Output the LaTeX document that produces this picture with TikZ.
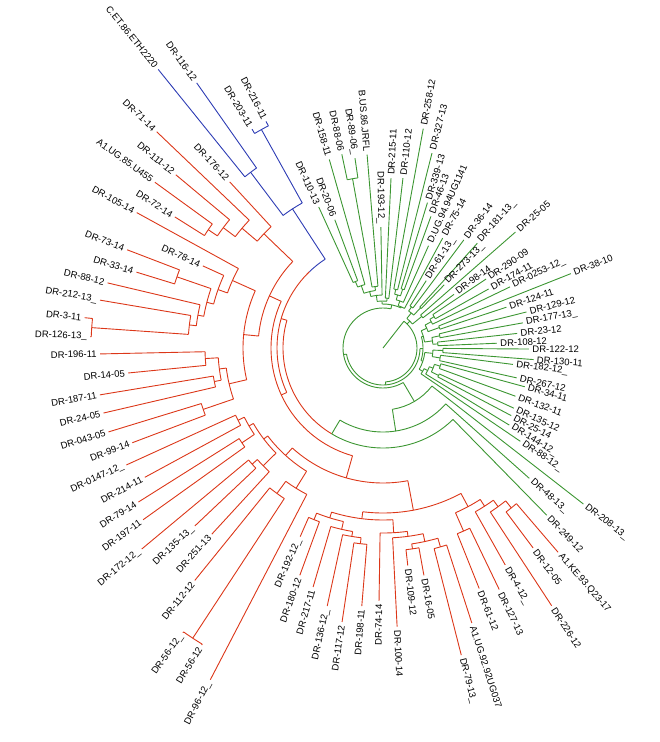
\documentclass[tikz,border=0pt]{standalone}
\usepackage{fontspec}
\setmainfont{Liberation Sans}
\definecolor{gc}{RGB}{60,150,50}
\definecolor{rc}{RGB}{220,55,25}
\definecolor{bc}{RGB}{45,60,180}
\tikzset{lbl/.style={font=\fontsize{9.5}{10}\selectfont,inner sep=0pt,text=black}}
\newcommand\lf[6]{\draw[#2] (#3:#4) -- (#3:#5);%
 \pgfmathsetmacro\lcos{cos(#3)}%
 \ifdim\lcos pt<0pt \node[lbl,anchor=east,rotate=#3+180] (#1) at (#3:#5+3) {#6};%
 \else \node[lbl,anchor=west,rotate=#3] (#1) at (#3:#5+3) {#6};\fi}
\newcommand\nd[4]{\draw[#1] (#3:#2) arc[start angle=#3,end angle=#4,radius=#2pt];}
\newcommand\st[4]{\draw[#1] (#2:#3) -- (#2:#4);}
\begin{document}
\begin{tikzpicture}[x=1pt,y=1pt,line width=0.9pt]
\useasboundingbox (0,0) rectangle (660,-742);
\begin{scope}[shift={(383,-348)}]
% ================= GREEN =================
% top group
\lf{g43}{gc}{114.5}{72}{155}{DR-110-13}
\lf{g42}{gc}{110.6}{72}{137}{DR-20-06}
\nd{gc}{72}{110.6}{114.5}
\st{gc}{112.55}{66}{72}
\lf{g41}{gc}{105.9}{66}{196}{DR-158-11}
\nd{gc}{66}{105.9}{112.55}
\lf{g40}{gc}{102}{172}{198}{DR-88-06}
\lf{g39}{gc}{98.4}{172}{192}{DR-89-06\_}
\nd{gc}{172}{98.4}{102}
\st{gc}{100.2}{62}{172}
\lf{g38}{gc}{94.7}{62}{194}{B.US.86.JRFL}
\nd{gc}{62}{94.7}{100.2}
\st{gc}{109.2}{58}{66}
\st{gc}{97.45}{58}{62}
\nd{gc}{58}{97.45}{109.2}
\st{gc}{103.3}{53}{58}
\lf{g37}{gc}{91}{53}{121}{DR-193-12\_}
\nd{gc}{53}{91}{103.3}
\lf{g36}{gc}{87.3}{50}{170}{DR-215-11}
\lf{g35}{gc}{83.3}{50}{171}{DR-110-12}
\nd{gc}{50}{83.3}{87.3}
\st{gc}{97.15}{47}{53}
\st{gc}{85.3}{47}{50}
\nd{gc}{47}{85.3}{97.15}
\lf{g34}{gc}{79.6}{60}{223}{DR-258-12}
\lf{g33}{gc}{75.9}{60}{201}{DR-327-13}
\nd{gc}{60}{75.9}{79.6}
\lf{g32}{gc}{73}{62}{152}{DR-339-13}
\lf{g31}{gc}{70}{62}{140}{DR-46-13}
\nd{gc}{62}{70}{73}
\st{gc}{77.75}{55}{60}
\st{gc}{71.5}{55}{62}
\nd{gc}{55}{71.5}{77.75}
\st{gc}{74.6}{50}{55}
\lf{g30}{gc}{66}{50}{112}{D.UG.94.94UG1141}
\nd{gc}{50}{66}{74.6}
\st{gc}{70.3}{45}{50}
\lf{g29}{gc}{61.5}{45}{125}{DR-75-14}
\nd{gc}{45}{61.5}{70.3}
\st{gc}{91.2}{44}{47}
\st{gc}{65.9}{44}{45}
\nd{gc}{44}{65.9}{91.2}
% upper right group
\lf{g28}{gc}{57.3}{50}{80}{DR-61-13\_}
\lf{g27}{gc}{53.2}{50}{135}{DR-36-14}
\nd{gc}{50}{53.2}{57.3}
\lf{g26}{gc}{48}{55}{141}{DR-181-13\_}
\lf{g25}{gc}{45.9}{55}{88}{DR-273-13\_}
\nd{gc}{55}{45.9}{48}
\st{gc}{55.25}{45}{50}
\st{gc}{46.95}{45}{55}
\nd{gc}{45}{46.95}{55.25}
\lf{g24}{gc}{41.2}{50}{176}{DR-25-05}
\lf{g23}{gc}{37.1}{50}{89}{DR-98-14}
\nd{gc}{50}{37.1}{41.2}
\st{gc}{51.1}{38}{45}
\st{gc}{39.15}{38}{50}
\nd{gc}{38}{39.15}{51.1}
% right group
\lf{g22}{gc}{33.8}{60}{124}{DR-290-09}
\lf{g21}{gc}{29.2}{60}{121}{DR-174-11}
\nd{gc}{60}{29.2}{33.8}
\st{gc}{31.5}{55}{60}
\lf{g20}{gc}{25.7}{55}{141}{DR-0253-12\_}
\nd{gc}{55}{25.7}{31.5}
\lf{g19}{gc}{21.6}{60}{202}{DR-38-10}
\lf{g18}{gc}{18.3}{60}{130}{DR-124-11}
\nd{gc}{60}{18.3}{21.6}
\st{gc}{28.6}{48}{55}
\st{gc}{19.95}{48}{60}
\nd{gc}{48}{19.95}{28.6}
\lf{g17}{gc}{14.1}{58}{148}{DR-129-12}
\lf{g16}{gc}{10.2}{58}{142}{DR-177-13\_}
\nd{gc}{58}{10.2}{14.1}
\lf{g15}{gc}{6.2}{55}{135}{DR-23-12}
\lf{g14}{gc}{2.4}{55}{114}{DR-108-12}
\nd{gc}{55}{2.4}{6.2}
\st{gc}{12.15}{50}{58}
\st{gc}{4.3}{50}{55}
\nd{gc}{50}{4.3}{12.15}
\st{gc}{24.3}{42}{48}
\st{gc}{8.2}{42}{50}
\nd{gc}{42}{8.2}{24.3}
\lf{g13}{gc}{-0.4}{60}{146}{DR-122-12}
\lf{g12}{gc}{-4.4}{60}{151}{DR-130-11}
\nd{gc}{60}{-4.4}{-0.4}
\lf{g11}{gc}{-7.2}{58}{131}{DR-182-12\_}
\lf{g10}{gc}{-12.6}{58}{137}{DR-267-12}
\nd{gc}{58}{-12.6}{-7.2}
\st{gc}{-2.4}{50}{60}
\st{gc}{-9.9}{50}{58}
\nd{gc}{50}{-9.9}{-2.4}
\lf{g9}{gc}{-15.3}{60}{147}{DR-34-11}
\lf{g8}{gc}{-20}{60}{141}{DR-132-11}
\nd{gc}{60}{-20}{-15.3}
\lf{g7}{gc}{-24.7}{62}{144}{DR-135-12}
\lf{g6}{gc}{-27.8}{62}{145}{DR-25-14}
\nd{gc}{62}{-27.8}{-24.7}
\st{gc}{-17.65}{54}{60}
\st{gc}{-26.25}{54}{62}
\nd{gc}{54}{-26.25}{-17.65}
\st{gc}{-21.95}{50}{54}
\lf{g5}{gc}{-31.4}{50}{148}{DR-144-12\_}
\nd{gc}{50}{-31.4}{-21.95}
\st{gc}{-26.7}{46}{50}
\lf{g4}{gc}{-34.2}{46}{166}{DR-88-12\_}
\nd{gc}{46}{-34.2}{-26.7}
\st{gc}{-6.15}{42}{50}
\st{gc}{-30.45}{42}{46}
\nd{gc}{42}{-30.45}{-6.15}
\st{gc}{16.25}{40}{42}
\st{gc}{-18.3}{40}{42}
\nd{gc}{40}{-18.3}{16.25}
% backbone
\lf{g3}{gc}{322.1}{62}{254}{DR-208-13\_}
\lf{g2}{gc}{318.3}{84}{196}{DR-48-13\_}
\lf{g1}{gc}{314.4}{100}{234}{DR-249-12}
\nd{gc}{100}{239.15}{314.4}
\nd{rc}{100}{163.9}{239.15}
\st{gc}{239.15}{84}{100}
\nd{gc}{84}{239.15}{318.3}
\st{gc}{278.7}{62}{84}
\nd{gc}{62}{278.7}{322.1}
\st{gc}{300.4}{40}{62}
\st{gc}{78.55}{40}{44}
\nd{gc}{40}{78.55}{300.4}
\st{gc}{189.5}{37}{40}
\st{gc}{-1}{37}{40}
\nd{gc}{37}{189.5}{359}
\st{gc}{274.25}{34}{37}
\st{gc}{45.1}{34}{38}
\nd{gc}{34}{-85.75}{52}
\st{gc}{52}{0}{34}
% ================= BLUE =================
\lf{b1}{bc}{117.3}{250}{255}{DR-216-11}
\lf{b2}{bc}{120.9}{250}{255}{DR-203-11}
\nd{bc}{250}{117.3}{120.9}
\lf{b3}{bc}{125.1}{220}{324}{DR-116-12}
\lf{b4}{bc}{128.9}{220}{358}{C.ET.86.ETH2220}
\nd{bc}{220}{125.1}{128.9}
\st{bc}{119.1}{166}{250}
\st{bc}{127}{166}{220}
\nd{bc}{166}{119.1}{127}
\st{bc}{123.05}{106}{166}
\nd{bc}{106}{123.05}{134}
% ================= RED =================
\nd{rc}{106}{134}{204.8}
\st{rc}{163.9}{100}{106}
% top-left group
\lf{r45}{rc}{144}{211}{282}{A1.UG.85.U455}
\lf{r44}{rc}{147.8}{211}{246}{DR-72-14}
\nd{rc}{211}{144}{147.8}
\lf{r46}{rc}{140.1}{200}{270}{DR-111-12}
\st{rc}{145.9}{200}{211}
\nd{rc}{200}{140.1}{145.9}
\lf{r47}{rc}{136.3}{185}{313}{DR-71-14}
\st{rc}{143}{185}{200}
\nd{rc}{185}{136.3}{143}
\lf{r48}{rc}{132.7}{165}{226}{DR-176-12}
\st{rc}{139.65}{165}{185}
\nd{rc}{165}{132.7}{139.65}
% left group
\lf{r36}{rc}{177.8}{292}{293}{DR-126-13\_}
\lf{r37}{rc}{174.2}{292}{300}{DR-3-11}
\nd{rc}{292}{174.2}{177.8}
\lf{r38}{rc}{170.4}{195}{287}{DR-212-13\_}
\st{rc}{176}{195}{292}
\nd{rc}{195}{170.4}{176}
\lf{r39}{rc}{166.7}{188}{283}{DR-88-12}
\st{rc}{173.2}{188}{195}
\nd{rc}{188}{166.7}{173.2}
\lf{r41}{rc}{159}{218}{274}{DR-73-14}
\lf{r40}{rc}{162.9}{218}{258}{DR-33-14}
\nd{rc}{218}{159}{162.9}
\st{rc}{160.95}{182}{218}
\st{rc}{169.95}{182}{188}
\nd{rc}{182}{160.95}{169.95}
\lf{r42}{rc}{155.5}{175}{198}{DR-78-14}
\st{rc}{165.45}{175}{182}
\nd{rc}{175}{155.5}{165.45}
\lf{r43}{rc}{151.2}{165}{281}{DR-105-14}
\st{rc}{160.5}{165}{175}
\nd{rc}{165}{151.2}{160.5}
\lf{r35}{rc}{181.2}{178}{283}{DR-196-11}
\lf{r34}{rc}{185.6}{178}{256}{DR-14-05}
\nd{rc}{178}{181.2}{185.6}
\lf{r33}{rc}{189.4}{172}{287}{DR-187-11}
\lf{r32}{rc}{193.1}{172}{287}{DR-24-05}
\nd{rc}{172}{189.4}{193.1}
\st{rc}{183.4}{165}{178}
\st{rc}{191.25}{165}{172}
\nd{rc}{165}{183.4}{191.25}
\lf{r31}{rc}{197}{190}{287}{DR-043-05}
\lf{r30}{rc}{200.7}{190}{268}{DR-99-14}
\nd{rc}{190}{197}{200.7}
\st{rc}{187.3}{158}{165}
\st{rc}{198.85}{158}{190}
\nd{rc}{158}{187.3}{198.85}
\st{rc}{155.85}{140}{165}
\st{rc}{193.1}{140}{158}
\nd{rc}{140}{155.85}{193.1}
\st{rc}{136.2}{125}{165}
\st{rc}{174.5}{125}{140}
\nd{rc}{125}{136.2}{174.5}
% lower-left group
\lf{r29}{rc}{204.5}{162}{282}{DR-0147-12\_}
\lf{r28}{rc}{208.5}{162}{271}{DR-214-11}
\nd{rc}{162}{204.5}{208.5}
\lf{r27}{rc}{212.2}{170}{289}{DR-79-14}
\lf{r26}{rc}{215.6}{170}{295}{DR-197-11}
\nd{rc}{170}{212.2}{215.6}
\st{rc}{206.5}{155}{162}
\st{rc}{213.9}{155}{170}
\nd{rc}{155}{206.5}{213.9}
\lf{r25}{rc}{219.8}{175}{314}{DR-172-12\_}
\lf{r24}{rc}{223.4}{175}{259}{DR-135-13\_}
\nd{rc}{175}{219.8}{223.4}
\lf{r23}{rc}{227.4}{168}{253}{DR-251-13}
\st{rc}{221.6}{168}{175}
\nd{rc}{168}{221.6}{227.4}
\st{rc}{210.2}{150}{155}
\st{rc}{224.5}{150}{168}
\nd{rc}{150}{210.2}{224.5}
\lf{r21}{rc}{234.9}{347}{348}{DR-56-12\_}
\lf{r20}{rc}{238.6}{347}{348}{DR-56-12}
\nd{rc}{347}{234.9}{238.6}
\lf{r22}{rc}{231}{180}{299}{DR-112-12}
\st{rc}{236.75}{180}{347}
\nd{rc}{180}{231}{236.75}
\lf{r19}{rc}{242.5}{165}{374}{DR-96-12\_}
\st{rc}{233.9}{165}{180}
\nd{rc}{165}{233.9}{242.5}
\st{rc}{217.35}{145}{150}
\st{rc}{238.2}{145}{165}
\nd{rc}{145}{217.35}{238.2}
% bottom group
\lf{r18}{rc}{246.3}{185}{206}{DR-192-12\_}
\lf{r17}{rc}{249.9}{185}{242}{DR-180-12}
\nd{rc}{185}{246.3}{249.9}
\lf{r14}{rc}{261.5}{197}{277}{DR-117-12}
\lf{r13}{rc}{265.3}{197}{259}{DR-198-11}
\nd{rc}{197}{261.5}{265.3}
\lf{r15}{rc}{257.8}{191}{264}{DR-136-12\_}
\st{rc}{263.4}{191}{197}
\nd{rc}{191}{257.8}{263.4}
\lf{r16}{rc}{253.7}{186}{249}{DR-217-11}
\st{rc}{260.6}{186}{191}
\nd{rc}{186}{253.7}{260.6}
\st{rc}{248.1}{178}{185}
\st{rc}{257.15}{178}{186}
\nd{rc}{178}{248.1}{257.15}
\lf{r10}{rc}{276.5}{203}{219}{DR-109-12}
\lf{r9}{rc}{280.2}{203}{231}{DR-16-05}
\nd{rc}{203}{276.5}{280.2}
\lf{r8}{rc}{284.3}{207}{317}{DR-79-13\_}
\lf{r7}{rc}{287.9}{207}{289}{A1.UG.92.92UG037}
\nd{rc}{207}{284.3}{287.9}
\st{rc}{278.35}{198}{203}
\st{rc}{286.1}{198}{207}
\nd{rc}{198}{278.35}{286.1}
\lf{r11}{rc}{272.9}{190}{279}{DR-100-14}
\st{rc}{282.2}{190}{198}
\nd{rc}{190}{272.9}{282.2}
\lf{r12}{rc}{269.1}{185}{253}{DR-74-14}
\st{rc}{277.55}{185}{190}
\nd{rc}{185}{269.1}{277.55}
\st{rc}{252.6}{172}{178}
\st{rc}{273.3}{172}{185}
\nd{rc}{172}{252.6}{273.3}
\lf{r6}{rc}{291.8}{200}{259}{DR-61-12}
\lf{r5}{rc}{295.7}{200}{268}{DR-127-13}
\nd{rc}{200}{291.8}{295.7}
\lf{r2}{rc}{306.9}{205}{250}{DR-12-05}
\lf{r1}{rc}{310.6}{205}{269}{A1.KE.93.Q23-17}
\nd{rc}{205}{306.9}{310.6}
\lf{r3}{rc}{303.2}{196}{308}{DR-226-12}
\st{rc}{308.75}{196}{205}
\nd{rc}{196}{303.2}{308.75}
\lf{r4}{rc}{299.4}{188}{249}{DR-4-12\_}
\st{rc}{305.95}{188}{196}
\nd{rc}{188}{299.4}{305.95}
\st{rc}{293.75}{180}{200}
\st{rc}{302.7}{180}{188}
\nd{rc}{180}{293.75}{302.7}
\st{rc}{262.95}{165}{172}
\st{rc}{298.2}{165}{180}
\nd{rc}{165}{262.95}{298.2}
\st{rc}{227.8}{135}{145}
\st{rc}{280.6}{135}{165}
\nd{rc}{135}{227.8}{280.6}
\st{rc}{155.35}{112}{125}
\st{rc}{254.2}{112}{135}
\nd{rc}{112}{155.35}{254.2}
\st{rc}{204.8}{106}{112}
\end{scope}
\end{tikzpicture}
\end{document}
